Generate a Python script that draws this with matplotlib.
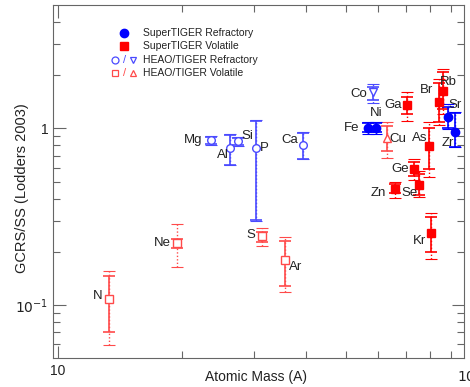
import numpy as np
import matplotlib
matplotlib.use('Agg')
import matplotlib.pyplot as plt

plt.rcParams['font.family'] = ['Liberation Sans', 'DejaVu Sans']

# SuperTIGER refractory (filled circles)
st_ref_el = ['Fe', 'Ni', 'Sr', 'Zr']
st_ref_A = [56.5, 59.4, 88.5, 92.1]
st_ref_v = [1.0, 1.0, 1.155, 0.96]
st_ref_lo = [0.95, 0.95, 1.0, 0.78]
st_ref_hi = [1.07, 1.07, 1.33, 1.22]
st_ref_tlo = [0.93, 0.93, 0.99, 0.785]
st_ref_thi = [1.09, 1.09, 1.37, 1.24]

# SuperTIGER volatile (filled squares)
st_vol_el = ['Ga', 'Zn', 'Ge', 'Se', 'As', 'Br', 'Rb', 'Kr']
st_vol_A = [70.3, 65.8, 73.1, 75.3, 79.6, 84.1, 86.1, 80.5]
st_vol_v = [1.35, 0.456, 0.585, 0.48, 0.79, 1.42, 1.62, 0.256]
st_vol_lo = [1.20, 0.433, 0.534, 0.42, 0.585, 1.08, 1.28, 0.20]
st_vol_hi = [1.50, 0.487, 0.641, 0.555, 1.01, 1.80, 2.08, 0.316]
st_vol_tlo = [1.095, 0.405, 0.513, 0.41, 0.527, 1.05, 1.20, 0.183]
st_vol_thi = [1.60, 0.50, 0.675, 0.57, 1.08, 1.90, 2.16, 0.333]

# HEAO/TIGER refractory (open circles / down triangle)
he_ref_el = ['Mg', 'Al', 'Si', 'P', 'Ca', 'Co']
he_ref_A = [23.5, 26.2, 27.4, 30.3, 39.4, 58.1]
he_ref_v = [0.855, 0.77, 0.844, 0.77, 0.80, 1.60]
he_ref_lo = [0.82, 0.624, 0.81, 0.304, 0.675, 1.44]
he_ref_hi = [0.89, 0.92, 0.88, 1.10, 0.94, 1.71]
he_ref_tlo = [0.80, 0.62, 0.79, 0.30, 0.67, 1.40]
he_ref_thi = [0.90, 0.93, 0.89, 1.11, 0.95, 1.78]
he_ref_mk = ['o', 'o', 'o', 'o', 'o', 'v']

# HEAO/TIGER volatile (open squares / up triangle)
he_vol_el = ['N', 'Ne', 'S', 'Ar', 'Cu']
he_vol_A = [13.3, 19.5, 31.3, 35.5, 62.9]
he_vol_v = [0.108, 0.225, 0.247, 0.180, 0.877]
he_vol_lo = [0.070, 0.211, 0.228, 0.128, 0.74]
he_vol_hi = [0.146, 0.237, 0.260, 0.231, 1.03]
he_vol_tlo = [0.059, 0.164, 0.216, 0.118, 0.68]
he_vol_thi = [0.156, 0.289, 0.274, 0.243, 1.08]
he_vol_mk = ['s', 's', 's', 's', '^']

# label offsets in pixels (dx, dy)
lab_off = {
    'N': (-11, 3), 'Ne': (-15, 0), 'S': (-11, 1), 'Ar': (11, -7),
    'Mg': (-18, 0), 'Al': (-7, -7), 'Si': (9, 5), 'P': (8, 0), 'Ca': (-13, 5),
    'Co': (-14, -2), 'Ni': (0, 15), 'Fe': (-16, 0), 'Cu': (11, -1),
    'Ga': (-13, 0), 'Zn': (-16, -4), 'Ge': (-13, 0), 'Se': (-9, -8),
    'As': (-9, 8), 'Br': (-12, 12), 'Rb': (6, 9), 'Sr': (7, 12),
    'Zr': (-7, -11), 'Kr': (-11, -8),
}

BLUE = '#0000ff'
RED = '#ff0000'
LBLUE = '#4a4aff'
LRED = '#ff4a4a'


def draw_errors(ax, A, v, lo, hi, tlo, thi, color):
    A = np.array(A)
    v = np.array(v)
    # total (dotted) error
    e = ax.errorbar(A, v, yerr=[v - np.array(tlo), np.array(thi) - v], fmt='none',
                    ecolor=color, elinewidth=1.0, capsize=4, capthick=0.8)
    e[2][0].set_linestyle((0, (1, 1.5)))
    # statistical (solid) error
    ax.errorbar(A, v, yerr=[v - np.array(lo), np.array(hi) - v], fmt='none',
                ecolor=color, elinewidth=1.2, capsize=4.5, capthick=1.2)


fig = plt.figure(figsize=(4.7, 3.87), dpi=100)
ax = fig.add_axes([0.113, 0.075, 0.874, 0.912])
ax.set_xscale('log')
ax.set_yscale('log')

draw_errors(ax, he_vol_A, he_vol_v, he_vol_lo, he_vol_hi, he_vol_tlo, he_vol_thi, LRED)
draw_errors(ax, he_ref_A, he_ref_v, he_ref_lo, he_ref_hi, he_ref_tlo, he_ref_thi, LBLUE)
draw_errors(ax, st_vol_A, st_vol_v, st_vol_lo, st_vol_hi, st_vol_tlo, st_vol_thi, RED)
draw_errors(ax, st_ref_A, st_ref_v, st_ref_lo, st_ref_hi, st_ref_tlo, st_ref_thi, BLUE)

for a, v, m in zip(he_vol_A, he_vol_v, he_vol_mk):
    ax.plot(a, v, m, ms=5.5 if m == 's' else 6, mfc='white', mec=LRED, mew=1.0, zorder=4)
for a, v, m in zip(he_ref_A, he_ref_v, he_ref_mk):
    ax.plot(a, v, m, ms=5.5 if m == 'o' else 6, mfc='white', mec=LBLUE, mew=1.0, zorder=4)
ax.plot(st_vol_A, st_vol_v, 's', ms=5.5, color=RED, zorder=4)
ax.plot(st_ref_A, st_ref_v, 'o', ms=6, color=BLUE, zorder=4)

for els, As, vs in [(he_vol_el, he_vol_A, he_vol_v), (he_ref_el, he_ref_A, he_ref_v),
                    (st_vol_el, st_vol_A, st_vol_v), (st_ref_el, st_ref_A, st_ref_v)]:
    for el, a, v in zip(els, As, vs):
        ax.annotate(el, (a, v), xytext=lab_off[el], textcoords='offset pixels',
                    ha='center', va='center', fontsize=9.5, color='#222222', zorder=5)

ax.set_xlim(9.72, 96.9)
ax.set_ylim(0.05, 5)

ax.set_xticks([10])
ax.set_xticklabels(['10'])
ax.set_xticks([20, 30, 40, 50, 60, 70, 80, 90], minor=True)
ax.xaxis.set_minor_formatter(matplotlib.ticker.NullFormatter())
ax.set_yticks([0.1, 1])
ax.set_yticklabels(['$10^{-1}$', '1'])
ax.set_yticks([0.06, 0.07, 0.08, 0.09, 0.2, 0.3, 0.4, 0.5, 0.6, 0.7, 0.8, 0.9, 2, 3, 4],
              minor=True)
ax.yaxis.set_minor_formatter(matplotlib.ticker.NullFormatter())
ax.tick_params(which='both', direction='in', top=True, right=True, color='#666666',
               labelsize=10, labelcolor='#222222')
ax.tick_params(which='major', length=9, width=0.8)
ax.tick_params(which='minor', length=5, width=0.8)
ax.tick_params(axis='x', pad=4)
for s in ax.spines.values():
    s.set_color('#666666')
    s.set_linewidth(0.8)

ax.text(100, -0.025, '$10^{2}$', transform=ax.get_xaxis_transform(), ha='center',
        va='top', fontsize=10, color='#222222', clip_on=False)

# axis titles placed like the original layout
fig.text(256 / 470, 1 - 377 / 387, 'Atomic Mass (A)', ha='center', va='center',
         fontsize=10, color='#222222')
fig.text(22 / 470, 1 - 188 / 387, 'GCRS/SS (Lodders 2003)', ha='center', va='center',
         rotation=90, fontsize=10.5, color='#222222')


# legend drawn by hand
def ax_xy(px, py):
    return (px - 53) / 411.0, (358 - py) / 353.0


lx, ly = ax_xy(124, 33)
ax.plot(lx, ly, 'o', ms=6, color=BLUE, transform=ax.transAxes, clip_on=False)
lx, ly = ax_xy(124, 46)
ax.plot(lx, ly, 's', ms=5.5, color=RED, transform=ax.transAxes, clip_on=False)
for py, m1, m2, c in [(60, 'o', 'v', LBLUE), (73, 's', '^', LRED)]:
    x1, y1 = ax_xy(115, py)
    ax.plot(x1, y1, m1, ms=5, mfc='white', mec=c, mew=0.9, transform=ax.transAxes)
    x2, _ = ax_xy(124, py)
    ax.text(x2, y1, '/', transform=ax.transAxes, ha='center', va='center', fontsize=8,
            color=c)
    x3, _ = ax_xy(133, py)
    ax.plot(x3, y1, m2, ms=5, mfc='white', mec=c, mew=0.9, transform=ax.transAxes)
leg_txt = ['SuperTIGER Refractory', 'SuperTIGER Volatile', 'HEAO/TIGER Refractory',
           'HEAO/TIGER Volatile']
for t, py in zip(leg_txt, [33, 46, 60, 73]):
    tx, ty = ax_xy(143, py)
    ax.text(tx, ty, t, transform=ax.transAxes, ha='left', va='center', fontsize=7.5,
            color='#222222')

fig.savefig('out.png', dpi=100)
